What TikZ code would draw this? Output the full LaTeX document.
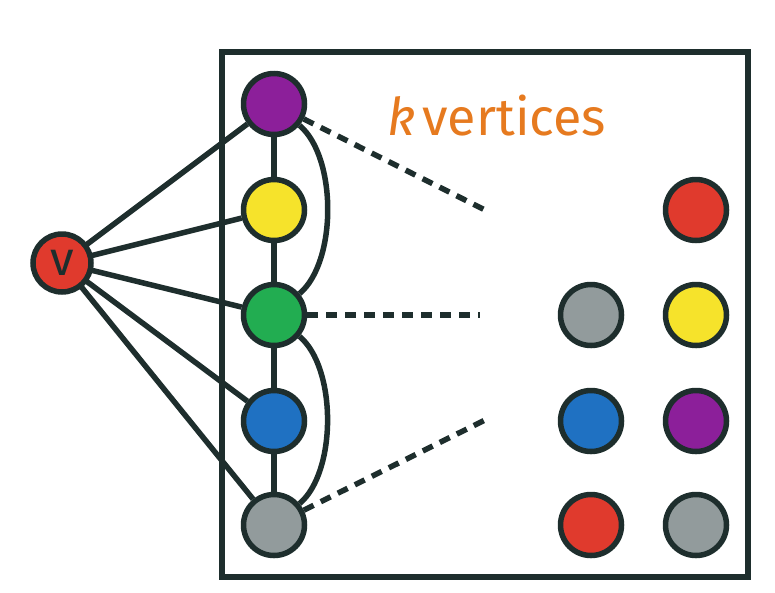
\documentclass[tikz,border=0pt]{standalone}
\usepackage{fontspec}
\setmainfont{Fira Sans}
\usetikzlibrary{calc}
\definecolor{ink}{HTML}{1E2E2D}
\definecolor{cpurple}{HTML}{8C1F9A}
\definecolor{cyellow}{HTML}{F6E32B}
\definecolor{cgreen}{HTML}{22AD51}
\definecolor{cblue}{HTML}{1F71C2}
\definecolor{cgray}{HTML}{929B9C}
\definecolor{cred}{HTML}{E03A2D}
\definecolor{corange}{HTML}{E67A1F}
\tikzset{
  vert/.style={circle, draw=ink, line width=5.5pt, minimum size=61pt, inner sep=0pt},
  edge/.style={draw=ink, line width=5.5pt},
  dashedge/.style={draw=ink, line width=5.5pt, dash pattern=on 11pt off 8pt},
}
\begin{document}
\begin{tikzpicture}[x=1pt,y=-1pt]
\useasboundingbox (0,0) rectangle (775,592);
\draw[ink, line width=5.5pt] (222,52) rectangle (748,577);
% left column
\node[vert, fill=cpurple] (p) at (274,104) {};
\node[vert, fill=cyellow] (y) at (274,210) {};
\node[vert, fill=cgreen] (g) at (274,315) {};
\node[vert, fill=cblue] (b) at (274,421) {};
\node[vert, fill=cgray] (s) at (274,525) {};
% edges (drawn before v so v sits on top)
\coordinate (vc) at (62,263);
\foreach \t in {p,y,g,b,s} \draw[edge] (vc) -- (\t);
\node[vert, fill=cred, minimum size=58pt] (v) at (vc) {};
\node[text=ink, anchor=base] (vl) at (62,275) {\fontsize{48}{48}\selectfont v};
% right grid
\node[vert, fill=cred] (r1) at (696,210) {};
\node[vert, fill=cgray] (r2a) at (591,315) {};
\node[vert, fill=cyellow] (r2b) at (696,315) {};
\node[vert, fill=cblue] (r3a) at (591,421) {};
\node[vert, fill=cpurple] (r3b) at (696,421) {};
\node[vert, fill=cred] (r4a) at (591,525) {};
\node[vert, fill=cgray] (r4b) at (696,525) {};
% label
\node[text=corange, anchor=base] (lbl) at (497,135) {\fontsize{52}{52}\selectfont\textit{k}\hspace{0.12em}vertices};
\draw[edge] (p) -- (y);
\draw[edge] (y) -- (g);
\draw[edge] (g) -- (b);
\draw[edge] (b) -- (s);
\draw[edge] (p) to[out=-40,in=40,looseness=0.75] (g);
\draw[edge] (g) to[out=-40,in=40,looseness=0.75] (s);
% dashed
\coordinate (d1) at (487,211);
\coordinate (d2) at (480,315);
\coordinate (d3) at (487,419);
\draw[dashedge] (p) -- (d1);
\draw[dashedge] (g) -- (d2);
\draw[dashedge] (s) -- (d3);
\end{tikzpicture}
\end{document}
